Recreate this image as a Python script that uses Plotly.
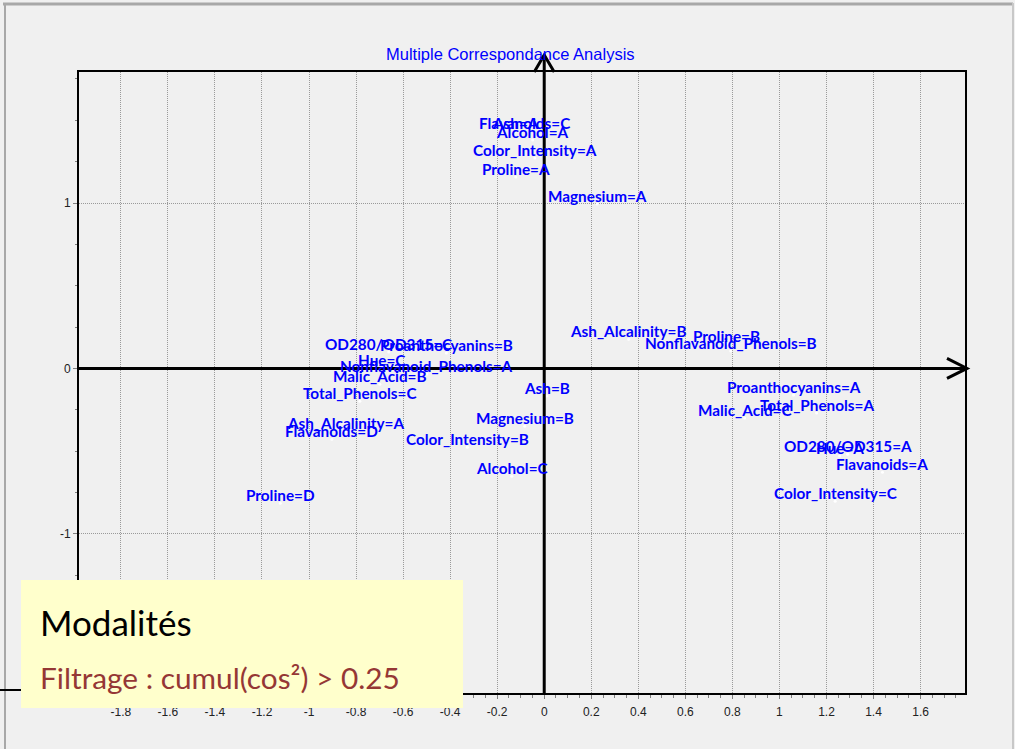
import plotly.graph_objects as go

# Category coordinates on the first two MCA factors
labels = [
    "Flavanoids=C", "Ash=A", "Alcohol=A", "Color_Intensity=A", "Proline=A",
    "Magnesium=A", "Ash_Alcalinity=B", "Proline=B", "Nonflavanoid_Phenols=B",
    "OD280/OD315=C", "Proanthocyanins=B", "Hue=C", "Nonflavanoid_Phenols=A",
    "Malic_Acid=B", "Total_Phenols=C", "Ash=B", "Magnesium=B",
    "Ash_Alcalinity=A", "Flavanoids=D", "Color_Intensity=B", "Alcohol=C",
    "Proline=D", "Proanthocyanins=A", "Total_Phenols=A", "Malic_Acid=C",
    "OD280/OD315=A", "Hue=A", "Flavanoids=A", "Color_Intensity=C",
]
coord_x = [
    -0.083, -0.121, -0.049, -0.040, -0.121,
    0.225, 0.359, 0.776, 0.793,
    -0.661, -0.416, -0.691, -0.499,
    -0.699, -0.784, 0.011, -0.083,
    -0.844, -0.903, -0.327, -0.138,
    -1.122, 1.060, 1.158, 0.852,
    1.290, 1.256, 1.438, 1.237,
]
coord_y = [
    1.436, 1.436, 1.381, 1.272, 1.157,
    0.994, 0.177, 0.147, 0.105,
    0.099, 0.093, 0.002, -0.034,
    -0.095, -0.198, -0.167, -0.349,
    -0.379, -0.428, -0.476, -0.652,
    -0.815, -0.161, -0.270, -0.300,
    -0.518, -0.530, -0.627, -0.803,
]

x_tick_vals = [-1.8, -1.6, -1.4, -1.2, -1.0, -0.8, -0.6, -0.4, -0.2, 0.0,
               0.2, 0.4, 0.6, 0.8, 1.0, 1.2, 1.4, 1.6]
x_tick_text = ["-1.8", "-1.6", "-1.4", "-1.2", "-1", "-0.8", "-0.6", "-0.4", "-0.2", "0",
               "0.2", "0.4", "0.6", "0.8", "1", "1.2", "1.4", "1.6"]
y_tick_vals = [-1, 0, 1]
y_tick_text = ["-1", "0", "1"]

X_RANGE = [-1.978, 1.789]
Y_RANGE = [-1.962, 1.792]

FIG_W, FIG_H = 1015, 749
M_L, M_R, M_T, M_B = 79, 50, 72, 56
PLOT_W = FIG_W - M_L - M_R
PLOT_H = FIG_H - M_T - M_B


def px_x(px):
    return (px - M_L) / PLOT_W


def px_y(py):
    return (FIG_H - M_B - py) / PLOT_H


# origin in paper coordinates
zx = (0 - X_RANGE[0]) / (X_RANGE[1] - X_RANGE[0])
zy = (0 - Y_RANGE[0]) / (Y_RANGE[1] - Y_RANGE[0])
dxp = 1 / PLOT_W
dyp = 1 / PLOT_H

fig = go.Figure()
# category points
fig.add_trace(go.Scatter(
    x=coord_x, y=coord_y,
    mode="markers",
    marker=dict(size=3, color="white"),
    text=labels,
    hoverinfo="text",
    showlegend=False,
))

# category labels, centred just above each point
label_font = dict(family="Lato", size=15.3, color="#0000ff", weight="bold")
annotations = [
    dict(text=name, x=cx, y=cy, xref="x", yref="y",
         xanchor="center", yanchor="bottom", yshift=-2, showarrow=False,
         borderpad=0, font=label_font)
    for name, cx, cy in zip(labels, coord_x, coord_y)
]

shapes = []
# factor axes with open arrowheads
shapes.append(dict(type="line", xref="paper", yref="paper",
                   x0=zx, y0=0, x1=zx, y1=1 + 17 * dyp,
                   line=dict(color="black", width=3)))
shapes.append(dict(type="path", xref="paper", yref="paper",
                   path=f"M {zx - 10 * dxp},{1.0} L {zx},{1 + 17 * dyp} L {zx + 10 * dxp},{1.0}",
                   line=dict(color="black", width=3)))
shapes.append(dict(type="line", xref="paper", yref="paper",
                   x0=0, y0=zy, x1=1 + 2 * dxp, y1=zy,
                   line=dict(color="black", width=3)))
shapes.append(dict(type="path", xref="paper", yref="paper",
                   path=f"M {1 - 18 * dxp},{zy + 10 * dyp} L {1 + 2 * dxp},{zy} L {1 - 18 * dxp},{zy - 10 * dyp}",
                   line=dict(color="black", width=3)))
# window frame
shapes.append(dict(type="line", xref="paper", yref="paper",
                   x0=px_x(3), y0=px_y(4), x1=px_x(1013), y1=px_y(4),
                   line=dict(color="#a8a8a8", width=3)))
shapes.append(dict(type="line", xref="paper", yref="paper",
                   x0=px_x(5), y0=px_y(3), x1=px_x(5), y1=px_y(749),
                   line=dict(color="#a8a8a8", width=2)))
shapes.append(dict(type="line", xref="paper", yref="paper",
                   x0=px_x(1013), y0=px_y(3), x1=px_x(1013), y1=px_y(749),
                   line=dict(color="#c8c8c8", width=2)))
shapes.append(dict(type="line", xref="paper", yref="paper",
                   x0=px_x(0), y0=px_y(690), x1=px_x(22), y1=px_y(690),
                   line=dict(color="black", width=2)))
# legend note box
shapes.append(dict(type="rect", xref="paper", yref="paper", layer="above",
                   x0=px_x(21), y0=px_y(708), x1=px_x(463), y1=px_y(580),
                   fillcolor="#ffffcc", line=dict(width=0)))

annotations += [
    dict(text="Multiple Correspondance Analysis", xref="paper", yref="paper",
         x=px_x(510), y=px_y(54), xanchor="center", yanchor="middle", showarrow=False,
         font=dict(family="Liberation Sans", size=16.5, color="#0000ff")),
    dict(text="Modalités", xref="paper", yref="paper",
         x=px_x(38), y=px_y(622), xanchor="left", yanchor="middle", showarrow=False,
         font=dict(family="Lato", size=35, color="black")),
    dict(text="Filtrage : cumul(cos²) > 0.25", xref="paper", yref="paper",
         x=px_x(38), y=px_y(677), xanchor="left", yanchor="middle", showarrow=False,
         font=dict(family="Lato", size=29.8, color="#953735")),
]

axis_common = dict(
    showline=True, linecolor="black", linewidth=2, mirror=True,
    zeroline=False, showgrid=True, gridcolor="#9a9a9a", gridwidth=1, griddash="1px,1px",
    ticks="outside", ticklen=4, tickcolor="#808080",
    tickfont=dict(family="Liberation Sans", size=12, color="#222222"),
)

fig.update_layout(
    width=FIG_W, height=FIG_H,
    margin=dict(l=M_L, r=M_R, t=M_T, b=M_B),
    paper_bgcolor="#f0f0f0", plot_bgcolor="#f0f0f0",
    xaxis=dict(range=X_RANGE, tickmode="array", tickvals=x_tick_vals, ticktext=x_tick_text,
               ticklabelstandoff=3,
               minor=dict(dtick=0.05, tick0=0, ticks="outside", ticklen=3, tickcolor="#808080",
                          showgrid=False),
               **axis_common),
    yaxis=dict(range=Y_RANGE, tickmode="array", tickvals=y_tick_vals, ticktext=y_tick_text,
               minor=dict(dtick=0.25, tick0=0, ticks="outside", ticklen=2, tickcolor="#808080",
                          showgrid=False),
               **axis_common),
    shapes=shapes,
    annotations=annotations,
    hovermode="closest",
)

fig.write_html("out.html")
